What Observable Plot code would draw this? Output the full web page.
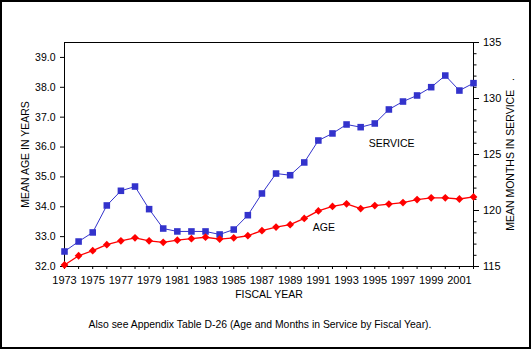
<!DOCTYPE html>
<html><head><meta charset="utf-8">
<script src="https://cdn.jsdelivr.net/npm/d3@7"></script>
<script src="https://cdn.jsdelivr.net/npm/@observablehq/plot@0.6"></script>
<style>
body{margin:0;background:#fff}
#chart svg{display:block;outline:2px solid #000;outline-offset:-2px}
</style></head><body><div id="chart"></div>
<script>
const years = [1973,1974,1975,1976,1977,1978,1979,1980,1981,1982,1983,1984,1985,1986,1987,1988,1989,1990,1991,1992,1993,1994,1995,1996,1997,1998,1999,2000,2001,2002];
const ageYears = [32.05,32.36,32.53,32.73,32.86,32.96,32.86,32.81,32.88,32.93,32.98,32.92,32.96,33.03,33.20,33.32,33.40,33.61,33.86,34.01,34.10,33.94,34.04,34.09,34.14,34.24,34.30,34.30,34.26,34.33];
const serviceMonths = [116.34,117.23,118.04,120.45,121.76,122.14,120.12,118.39,118.13,118.13,118.13,117.86,118.30,119.58,121.52,123.30,123.15,124.29,126.25,126.88,127.68,127.44,127.77,129.02,129.73,130.27,131.01,132.05,130.71,131.37];
const labeledYears = [1973,1975,1977,1979,1981,1983,1985,1987,1989,1991,1993,1995,1997,1999,2001];
const ageTicks = [32,33,34,35,36,37,38,39];
const serviceTicks = [115,120,125,130,135];
const serviceMinorTicks = [115,116,117,118,119,120,121,122,123,124,125,126,127,128,129,130,131,132,133,134,135];
const ageDomain = [32, 39.5];
const serviceDomain = [115, 135];

const toAge = m => ageDomain[0] + (m - serviceDomain[0]) * (ageDomain[1] - ageDomain[0]) / (serviceDomain[1] - serviceDomain[0]);
const fromAge = a => serviceDomain[0] + (a - ageDomain[0]) * (serviceDomain[1] - serviceDomain[0]) / (ageDomain[1] - ageDomain[0]);

const table = years.map((y, i) => ({year: y, age: ageYears[i], service: serviceMonths[i], serviceY: toAge(serviceMonths[i])}));

const blue = "#3333cc", red = "#ff0000";

const plot = Plot.plot({
  width: 531, height: 349,
  marginLeft: 64, marginRight: 58, marginTop: 42, marginBottom: 83,
  style: {fontFamily: "'Liberation Sans', Arial, sans-serif", fontSize: "10.5px", color: "#000", background: "#fff"},
  x: {domain: [years[0], years[years.length - 1]]},
  y: {domain: ageDomain},
  marks: [
    Plot.frame({stroke: "#000"}),
    Plot.axisX({ticks: years, tickSize: 3, tickPadding: 7, fontSize: 11, tickFormat: d => labeledYears.includes(d) ? String(d) : "", label: null}),
    Plot.axisY({ticks: ageTicks, tickSize: 4, tickPadding: 5, fontSize: 10.5, tickFormat: d3.format(".1f"), label: null}),
    Plot.axisY({anchor: "right", ticks: serviceMinorTicks.map(toAge), tickSize: 2.5, tickFormat: () => "", label: null}),
    Plot.axisY({anchor: "right", ticks: serviceTicks.map(toAge), tickSize: 5, tickPadding: 4.5, fontSize: 11, tickFormat: d => String(Math.round(fromAge(d))), label: null}),
    Plot.line(table, {x: "year", y: "serviceY", stroke: blue, strokeWidth: 1}),
    Plot.dot(table, {x: "year", y: "serviceY", symbol: "square", r: 3.7, fill: blue, stroke: "none"}),
    Plot.line(table, {x: "year", y: "age", stroke: red, strokeWidth: 1.3}),
    Plot.dot(table, {x: "year", y: "age", symbol: "diamond2", r: 3.5, fill: red, stroke: "none"}),
    Plot.text(["SERVICE"], {x: 1994.57, y: toAge(125.98), textAnchor: "start", fontSize: 10.5, letterSpacing: "0.5px"}),
    Plot.text(["AGE"], {x: 1990.6, y: 33.31, textAnchor: "start", fontSize: 10.5, letterSpacing: "0.5px"}),
    Plot.text(["MEAN AGE IN YEARS"], {frameAnchor: "left", textAnchor: "middle", dx: -39, rotate: -90, fontSize: 10.5}),
    Plot.text(["MEAN MONTHS IN SERVICE\u00a0\u00a0\u00a0."], {frameAnchor: "right", textAnchor: "middle", dx: 37, rotate: -90, fontSize: 10.5}),
    Plot.text(["FISCAL YEAR"], {frameAnchor: "bottom", dy: 31, fontSize: 10.5}),
    Plot.text(["Also see Appendix Table D-26 (Age and Months in Service by Fiscal Year)."], {frameAnchor: "bottom", dx: -9, dy: 61, fontSize: 10.4})
  ]
});
document.getElementById("chart").appendChild(plot);
</script>
</body></html>
